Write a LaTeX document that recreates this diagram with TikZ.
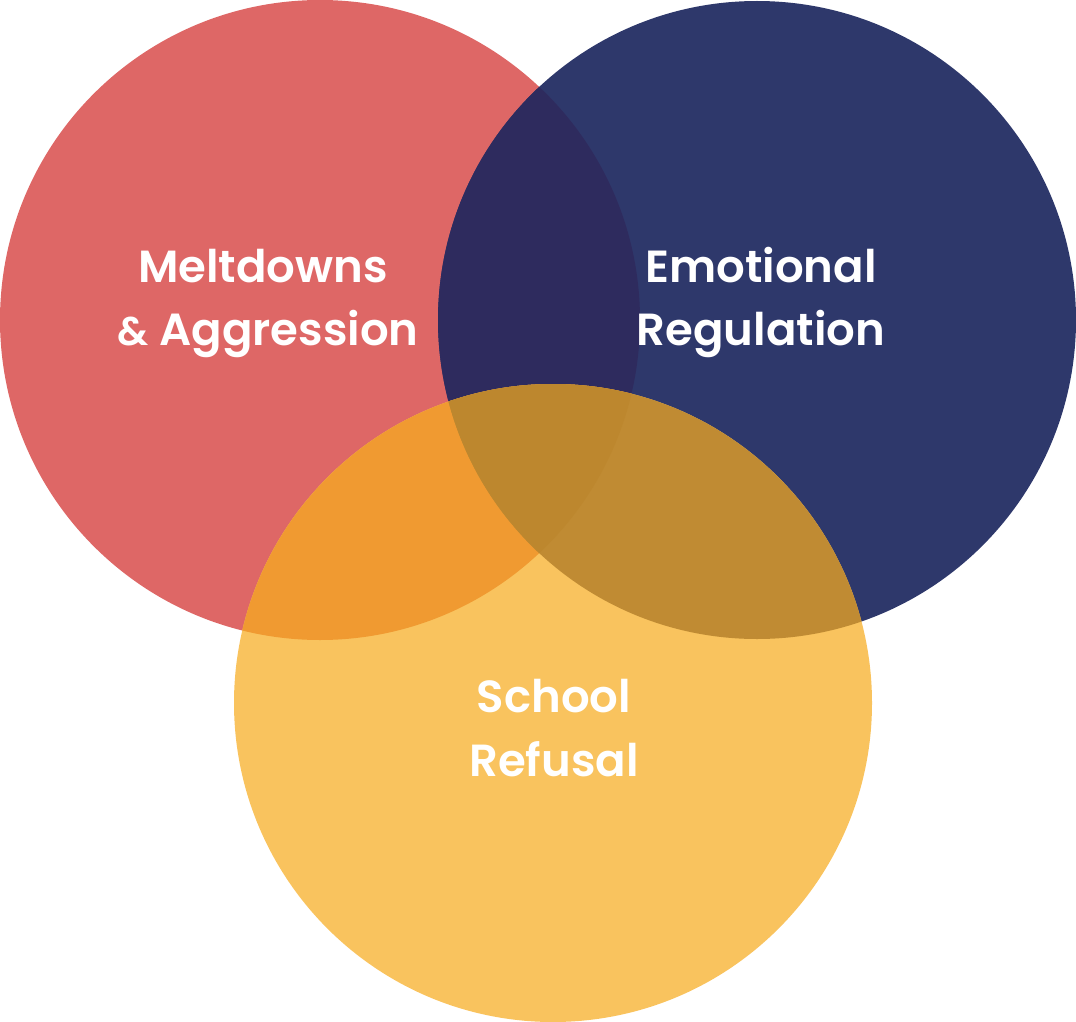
\documentclass[tikz,border=0pt]{standalone}
\usepackage{fontspec}
\setmainfont{Poppins}[BoldFont={Poppins SemiBold}]
\definecolor{cred}{HTML}{DE6766}
\definecolor{cnavy}{HTML}{2E386B}
\definecolor{cyel}{HTML}{F9C35E}
\definecolor{crn}{HTML}{2E2B5E}
\definecolor{cry}{HTML}{F09A31}
\definecolor{cny}{HTML}{C08B33}
\definecolor{crny}{HTML}{BD872E}
\tikzset{lbl/.style={text=white,font=\fontsize{45}{50}\selectfont\bfseries,anchor=base,inner sep=0pt}}
\begin{document}
\begin{tikzpicture}[x=1pt,y=-1pt]
\useasboundingbox (0,0) rectangle (1076,1022);
\def\redc{(320,320) circle (320)}
\def\navc{(757,320) circle (319)}
\def\yelc{(553,703) circle (319)}
\fill[cred] \redc;
\fill[cnavy] \navc;
\begin{scope}\clip \redc; \fill[crn] \navc; \end{scope}
\fill[cyel] \yelc;
\begin{scope}\clip \yelc; \fill[cry] \redc; \end{scope}
\begin{scope}\clip \yelc; \fill[cny] \navc; \end{scope}
\begin{scope}\clip \yelc; \clip \navc; \fill[crny] \redc; \end{scope}
\node[lbl] (m1) at (263,282) {Meltdowns};
\node[lbl] (m2) at (268,345) {{\fontsize{40}{50}\selectfont\&} Aggression};
\node[lbl] (e1) at (761,282) {Emotional};
\node[lbl] (e2) at (761,345) {Regulation};
\node[lbl] (s1) at (554,712) {School};
\node[lbl] (s2) at (554,776) {Refusal};
\end{tikzpicture}
\end{document}
